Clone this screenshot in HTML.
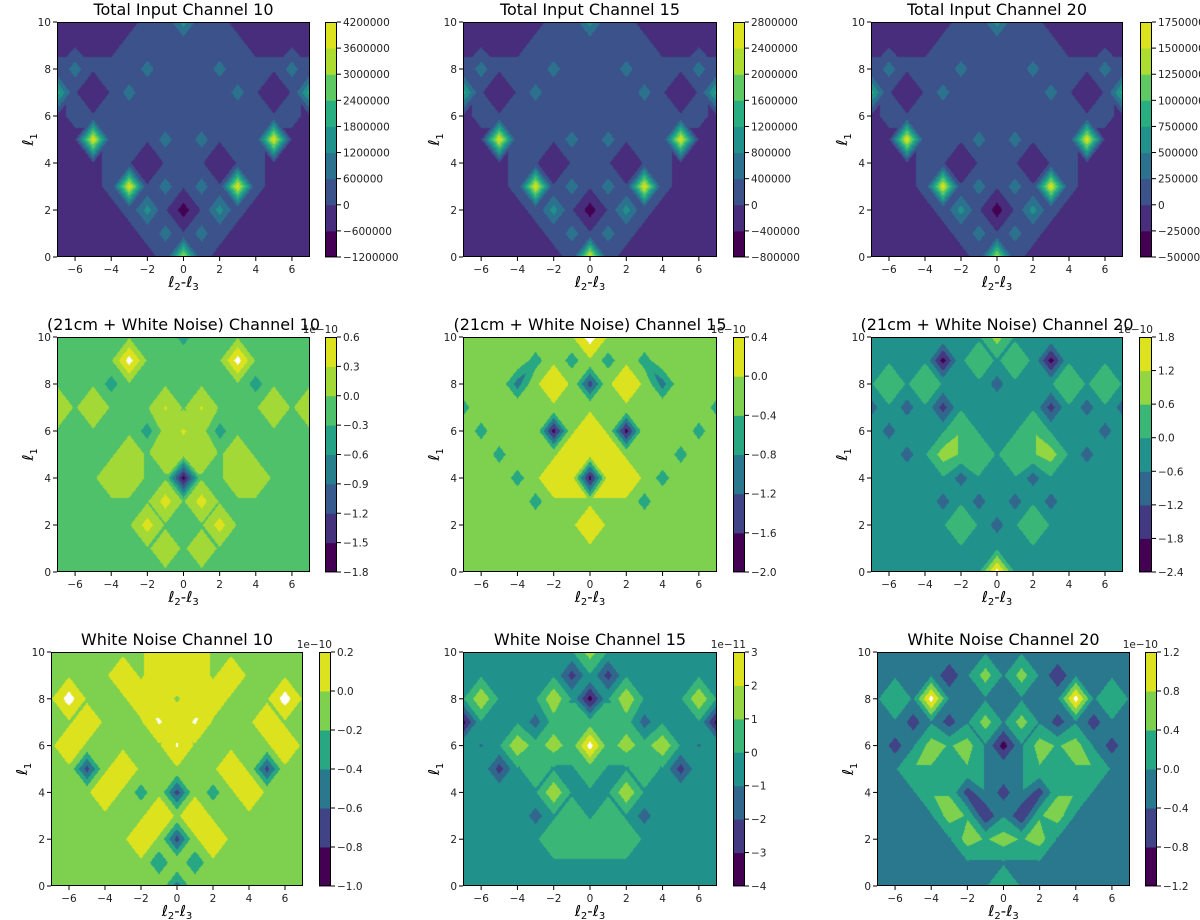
<!DOCTYPE html>
<html><head><meta charset="utf-8">
<style>
html,body{margin:0;padding:0;background:#fff;}
#wrap{position:relative;width:1200px;height:920px;overflow:hidden;font-family:"DejaVu Sans","Liberation Sans",sans-serif;}
canvas{position:absolute;}
svg{position:absolute;left:0;top:0;}
</style></head>
<body>
<div id="wrap">
<svg id="svg" width="1200" height="920"></svg>
</div>
<script>
// ---- data: grid values (rows y=10 .. y=0, columns x=-7..7), encoded band values ----
const grid1=["bbbbbCC4CCbbbbb","bbbbCCCCCCCbbbb","C3CCC3CCC3CCC3C","5CBC3CCCCC3CBC5","bCCCCCCCCCCCCCb","bb8CCC3C3CCC8bb","bbbCCBCCCBCCbbb","bbbC8C3C3C8Cbbb","bbbbC4C0C4Cbbbb","bbbbbC3C3Cbbbbb","bbbbbbC7Cbbbbbb"];
const grid2=["bbbbbCC4CCbbbbb","bbbbCCCCCCCbbbb","C3CCC3CCC3CCC3C","5CBC3CCCCC3CBC5","bCCCCCCCCCCCCCb","bb8CCC3C3CCC8bb","bbbCCBCCCBCCbbb","bbbC8C3C3C8Cbbb","bbbbC4C0C4Cbbbb","bbbbbC3C3Cbbbbb","bbbbbbC8Cbbbbbb"];
const grid3=["bbbbbCC4CCbbbbb","bbbbCCCCCCCbbbb","C3CCC3CCC3CCC3C","5CBC3CCCCC3CBC5","bCCCCCCCCCCCCCb","bb8CCC3C3CCC8bb","bbbCCBCCCBCCbbb","bbbC8C3C3C8Cbbb","bbbbC4C0C4Cbbbb","bbbbbC3C3Cbbbbb","bbbbbbC7Cbbbbbb"];
const grid4=["fffffff4fffffff","ffff8fffff8ffff","fff4fffffff4fff","gfgfffHfHfffgfg","fffff46H64fffff","ffff6f666f6ffff","fff66ff0ff66fff","ffffff7f7ffffff","fffff7fff7fffff","ffffff6f6ffffff","fffffffffffffff"];
const grid5=["eeeeeee6eeeeeee","eeee3e3e3e3eeee","eee2e5e1e5e2eee","3eeeeeeeeeeeee3","e3eee0e5e0eee3e","ee3eee555eee3ee","eee3e55055e3eee","eeee3eeeee3eeee","eeeeeee5eeeeeee","eeeeeeeeeeeeeee","eeeeeeeeeeeeeee"];
const grid6=["ddddddd5ddddddd","dddd0d4d4d0dddd","dededdd2dddeded","2d2d1ddddd1d2d2","d2dddedddeddd2d","dd2d5eedee5d2dd","ddddd2ddd2ddddd","dddd2d2d2d2dddd","ddddded2deddddd","ddddddddddddddd","ddddddd7ddddddd"];
const grid7=["eeeeee555eeeeee","eeee5e555e5eeee","e6eee55e55eee6e","ee5eeeG5Geee5ee","e5eeeeeGeeeee5e","ee1e5eeeee5e1ee","eee5e3e1e3e5eee","eeeeee5e5eeeeee","eeeee5e1e5eeeee","eeeeeeDeDeeeeee","eeeeeee2eeeeeee"];
const grid8=["ddddddd5ddddddd","dddddd1d1dddddd","dfdddfd0dfdddfd","0ddd2444442ddd0","dcdf4547454fdcd","dd1d4dd4dd4d1dd","dddddfdddfddddd","dddd2d4d4d2dddd","ddddd44444ddddd","ddddddddddddddd","ddddddddddddddd"];
const grid9=["ccccccccccccccc","ccccBc4c4cBcccc","cdc6ccccccc6cdc","cc1c1c4c4c1c1cc","c1c4d4c0c4d4c1c","ccddddcccddddcc","cccdd1c1c1ddccc","cccc4dBcBd4cccc","ccccc4d4d4ccccc","ccccccccccccccc","cccccccdccccccc"];
// ---- colorbar level labels (top to bottom) ----
const levels1=["4200000","3600000","3000000","2400000","1800000","1200000","600000","0","−600000","−1200000"];
const levels2=["2800000","2400000","2000000","1600000","1200000","800000","400000","0","−400000","−800000"];
const levels3=["1750000","1500000","1250000","1000000","750000","500000","250000","0","−250000","−500000"];
const levels4=["0.6","0.3","0.0","−0.3","−0.6","−0.9","−1.2","−1.5","−1.8"];
const levels5=["0.4","0.0","−0.4","−0.8","−1.2","−1.6","−2.0"];
const levels6=["1.8","1.2","0.6","0.0","−0.6","−1.2","−1.8","−2.4"];
const levels7=["0.2","0.0","−0.2","−0.4","−0.6","−0.8","−1.0"];
const levels8=["3","2","1","0","−1","−2","−3","−4"];
const levels9=["1.2","0.8","0.4","0.0","−0.4","−0.8","−1.2"];
const titles=["Total Input Channel 10","Total Input Channel 15","Total Input Channel 20","(21cm + White Noise) Channel 10","(21cm + White Noise) Channel 15","(21cm + White Noise) Channel 20","White Noise Channel 10","White Noise Channel 15","White Noise Channel 20"];
const offsets=["","","","1e−10","1e−10","1e−10","1e−10","1e−11","1e−10"];
const xTicks=[-6,-4,-2,0,2,4,6];
const yTicks=[0,2,4,6,8,10];

const grids=[grid1,grid2,grid3,grid4,grid5,grid6,grid7,grid8,grid9];
const levs=[levels1,levels2,levels3,levels4,levels5,levels6,levels7,levels8,levels9];
// layout [axL, axT, axR, axB, cbL, cbR]
const layout=[[57,22,310,257,325,337],[463,22,717,257,733,745],[871,22,1123,257,1140,1152],
[57,337,310,572,325,337],[463,337,717,572,733,745],[871,337,1123,572,1139,1152],
[51,652,303,886,319,331],[463,652,717,886,733,745],[877,652,1130,886,1145,1157]];

const VIR=[[68,1,84],[71,45,123],[59,82,139],[44,114,142],[33,145,140],[40,174,128],[94,201,98],[173,220,48],[220,227,30]];
function viridis(t){t=Math.max(0,Math.min(1,t));const f=t*8,i=Math.min(7,Math.floor(f)),r=f-i;
 return VIR[i].map((c,k)=>Math.round(c+(VIR[i+1][k]-c)*r));}
function val(ch){ if(ch>='0'&&ch<='9') return +ch+0.5;
 let k='abcdefghij'.indexOf(ch); if(k>=0) return k+0.9;
 k='ABCDEFGHIJ'.indexOf(ch); if(k>=0) return k+0.1; return 0.5;}

const NS="http://www.w3.org/2000/svg";
const svg=document.getElementById('svg');
function mk(tag,attrs,parent,txt){const e=document.createElementNS(NS,tag);for(const k in attrs)e.setAttribute(k,attrs[k]);if(txt!==undefined)e.textContent=txt;(parent||svg).appendChild(e);return e;}

grids.forEach((rows,p)=>{
 const [L,T,R,B,cL,cR]=layout[p]; const W=R-L,H=B-T; const lv=levs[p]; const nb=lv.length-1;
 const G=[]; for(let y=0;y<=10;y++){G[y]=[];for(let i=0;i<15;i++)G[y][i]=val(rows[10-y][i]);}
 // per-cell diagonal choice (true = split along a-c)
 const D=[]; for(let j=0;j<10;j++){D[j]=[];for(let i=0;i<14;i++){
  const a=G[j][i],b=G[j][i+1],c=G[j+1][i+1],d=G[j+1][i];
  const m=(a+b+c+d)/4; let ac;
  const saddle=(a-m)*(c-m)>0&&(b-m)*(d-m)>0&&(a-m)*(b-m)<0;
  const fa=Math.floor((a+c)/2),fb=Math.floor((b+d)/2),fm=Math.floor(m);
  if(saddle&&fa===fm&&fb!==fm) ac=true;
  else if(saddle&&fb===fm&&fa!==fm) ac=false;
  else { const da=Math.abs(a-c),db=Math.abs(b-d);
   if(da>db+1e-9) ac=false; else if(db>da+1e-9) ac=true; else ac=(i>=7); }
  D[j][i]=ac;}}
 const xs=v=>L+(v+7)/14*W, ys=v=>B-v/10*H;
 const cv=document.createElement('canvas'); cv.width=W; cv.height=H;
 cv.style.left=L+'px'; cv.style.top=T+'px';
 
 
 document.getElementById('wrap').insertBefore(cv,svg);
 const ctx=cv.getContext('2d'); const img=ctx.createImageData(W,H);
 const cols=[]; for(let k=0;k<nb;k++)cols.push(viridis(nb>1?k/(nb-1):0));
 for(let py=0;py<H;py++)for(let px=0;px<W;px++){
  const gx=(px+0.5)/W*14, gy=(1-(py+0.5)/H)*10;
  let i=Math.min(13,Math.floor(gx)), j=Math.min(9,Math.floor(gy)); const u=gx-i,v=gy-j;
  const a=G[j][i],b=G[j][i+1],c=G[j+1][i+1],d=G[j+1][i]; let vv;
  if(!D[j][i]){
   if(u+v<=1) vv=a+(b-a)*u+(d-a)*v; else vv=c+(d-c)*(1-u)+(b-c)*(1-v);
  } else {
   if(v<=u) vv=a+(b-a)*u+(c-b)*v; else vv=a+(d-a)*v+(c-d)*u;
  }
  let k=Math.floor(vv); const o=(py*W+px)*4; let col;
  if(k>=nb) col=[255,255,255]; else col=cols[Math.max(0,k)];
  img.data[o]=col[0];img.data[o+1]=col[1];img.data[o+2]=col[2];img.data[o+3]=255;}
 ctx.putImageData(img,0,0);

 const g=mk('g',{});  
 const fr=mk('rect',{x:L+0.5,y:T+0.5,width:W-1,height:H-1,fill:'none',stroke:'#000','stroke-width':1},g);
  
 const tt=mk('text',{x:(L+R)/2,y:T-7,'text-anchor':'middle','font-size':16,fill:'#000'},g,titles[p]);
  
 xTicks.forEach(t=>{const x=xs(t);
  mk('line',{x1:x,x2:x,y1:B,y2:B+4,stroke:'#000'},g);
  const lb=mk('text',{x:x,y:B+16,'text-anchor':'middle','font-size':10.5,fill:'#222'},g,(t<0?'−':'')+Math.abs(t));
   });
 yTicks.forEach(t=>{const y=ys(t);
  mk('line',{x1:L-4,x2:L,y1:y,y2:y,stroke:'#000'},g);
  const lb=mk('text',{x:L-6,y:y+4,'text-anchor':'end','font-size':10.5,fill:'#222'},g,String(t));
   });
 const xl=mk('text',{x:(L+R)/2,y:B+30,'text-anchor':'middle','font-size':15,fill:'#000'},g);
  
 mk('tspan',{'font-style':'italic'},xl,'ℓ'); mk('tspan',{'font-size':10,dy:3},xl,'2');
 mk('tspan',{dy:-3},xl,'-'); mk('tspan',{'font-style':'italic'},xl,'ℓ'); mk('tspan',{'font-size':10,dy:3},xl,'3');
 const yl=mk('text',{x:0,y:0,'text-anchor':'middle','font-size':15,fill:'#000',transform:`translate(${L-24},${(T+B)/2}) rotate(-90)`},g);
  
 mk('tspan',{'font-style':'italic'},yl,'ℓ'); mk('tspan',{'font-size':10,dy:4},yl,'1');
 // colorbar
 const cb=mk('g',{},g);  
 const bh=H/nb;
 for(let k=0;k<nb;k++){const c=cols[k];
  const r=mk('rect',{x:cL,y:B-(k+1)*bh,width:cR-cL,height:bh+0.5,fill:`rgb(${c[0]},${c[1]},${c[2]})`},cb);
   }
 mk('rect',{x:cL+0.5,y:T+0.5,width:cR-cL-1,height:H-1,fill:'none',stroke:'#000'},cb);
 lv.forEach((s,idx)=>{const y=T+idx*bh;
  mk('line',{x1:cR,x2:cR+4,y1:y,y2:y,stroke:'#000'},cb);
  const lb=mk('text',{x:cR+6,y:y+4,'font-size':10.5,fill:'#222'},cb,s);
   });
 if(offsets[p]){const ot=mk('text',{x:cR+1,y:T-4,'text-anchor':'end','font-size':10.5,fill:'#222'},cb,offsets[p]);
   }
});
</script>
</body></html>
